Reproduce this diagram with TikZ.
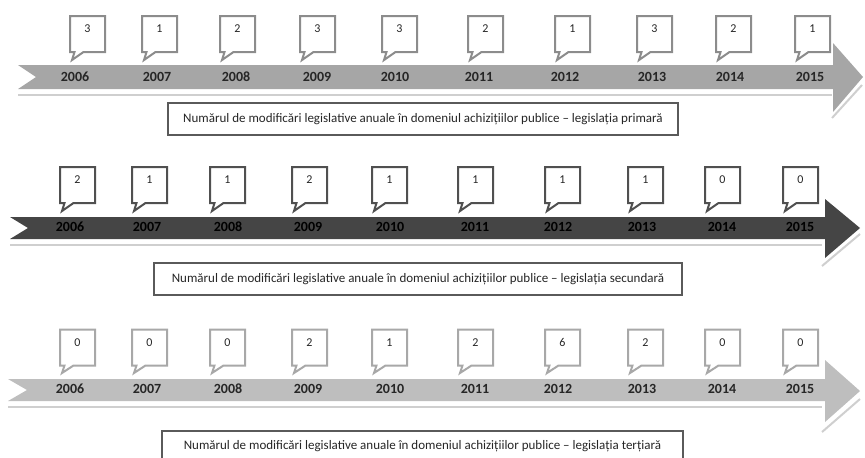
\documentclass[tikz,border=0pt]{standalone}
\usepackage{fontspec}
\setmainfont{Carlito}
\usetikzlibrary{shapes.callouts}

\definecolor{bandA}{HTML}{A6A6A6}
\definecolor{bandB}{HTML}{454545}
\definecolor{bandC}{HTML}{BEBEBE}
\definecolor{boxA}{HTML}{8C8C8C}
\definecolor{boxB}{HTML}{505050}
\definecolor{boxC}{HTML}{A8A8A8}
\definecolor{shine}{HTML}{CFCFCF}
\definecolor{yeartext}{HTML}{262626}
\definecolor{capline}{HTML}{5A5A5A}

\tikzset{
  year/.style={font=\fontsize{7}{8}\selectfont\bfseries, text=yeartext, inner sep=0pt},
  bubble/.style={rectangle callout, draw=#1, fill=white, line width=1pt,
    minimum width=17.5pt, inner sep=0pt, text height=8.4pt, text depth=9.6pt,
    font=\fontsize{6}{7}\selectfont, text=black!85, callout pointer width=4.5pt},
  capbox/.style={draw=capline, line width=0.6pt, fill=white, inner sep=0pt,
    font=\fontsize{6.5}{7}\selectfont, text=black!85},
  shineline/.style={draw=shine, line width=1pt}
}

\begin{document}
\begin{tikzpicture}[x=0.5pt, y=-0.5pt]
% page frame, 865 x 457
\useasboundingbox (0,0) rectangle (865,457);

% ---- primary legislation ----
% band with arrow head
\fill[bandA] (18,65) -- (833,65) -- (833,43) -- (863,77) -- (833,112) -- (833,89) -- (18,89) -- (36,77) -- cycle;
\draw[shineline] (18,95) -- (832,95);
\draw[shineline] (832,118) -- (862,85);

% years and bubbles
\node[year] (yA06) at (75,77) {2006};  \node[bubble=boxA, callout absolute pointer={(72,60)}] (cA06) at (87.5,34) {3};
\node[year] (yA07) at (157,77) {2007}; \node[bubble=boxA, callout absolute pointer={(144,60)}] (cA07) at (159.5,34) {1};
\node[year] (yA08) at (236,77) {2008}; \node[bubble=boxA, callout absolute pointer={(222,60)}] (cA08) at (237.5,34) {2};
\node[year] (yA09) at (317,77) {2009}; \node[bubble=boxA, callout absolute pointer={(302,60)}] (cA09) at (317.5,34) {3};
\node[year] (yA10) at (395,77) {2010}; \node[bubble=boxA, callout absolute pointer={(384,60)}] (cA10) at (399.5,34) {3};
\node[year] (yA11) at (479,77) {2011}; \node[bubble=boxA, callout absolute pointer={(470,60)}] (cA11) at (485.5,34) {2};
\node[year] (yA12) at (565,77) {2012}; \node[bubble=boxA, callout absolute pointer={(557,60)}] (cA12) at (572.5,34) {1};
\node[year] (yA13) at (652,77) {2013}; \node[bubble=boxA, callout absolute pointer={(639,60)}] (cA13) at (654.5,34) {3};
\node[year] (yA14) at (730,77) {2014}; \node[bubble=boxA, callout absolute pointer={(718,60)}] (cA14) at (733.5,34) {2};
\node[year] (yA15) at (810,77) {2015}; \node[bubble=boxA, callout absolute pointer={(797,60)}] (cA15) at (812.5,34) {1};

% caption
\node[capbox, minimum width=255pt, minimum height=16pt] (capA) at (423,119)
  {Numărul de modificări legislative anuale în domeniul achizițiilor publice – legislația primară};

% ---- secondary legislation ----
\fill[bandB] (10,217) -- (825,217) -- (825,199) -- (860,228) -- (825,258) -- (825,239) -- (10,239) -- (28,228) -- cycle;
\draw[shineline] (10,245) -- (822,245);
\draw[shineline] (822,266) -- (860,234);

\node[year, text=black] (yB06) at (70,227) {2006};  \node[bubble=boxB, callout absolute pointer={(62,211)}] (cB06) at (77.5,185) {2};
\node[year, text=black] (yB07) at (147,227) {2007}; \node[bubble=boxB, callout absolute pointer={(134,211)}] (cB07) at (149.5,185) {1};
\node[year, text=black] (yB08) at (228,227) {2008}; \node[bubble=boxB, callout absolute pointer={(212,211)}] (cB08) at (227.5,185) {1};
\node[year, text=black] (yB09) at (308,227) {2009}; \node[bubble=boxB, callout absolute pointer={(294,211)}] (cB09) at (309.5,185) {2};
\node[year, text=black] (yB10) at (390,227) {2010}; \node[bubble=boxB, callout absolute pointer={(374,211)}] (cB10) at (389.5,185) {1};
\node[year, text=black] (yB11) at (475,227) {2011}; \node[bubble=boxB, callout absolute pointer={(460,211)}] (cB11) at (475.5,185) {1};
\node[year, text=black] (yB12) at (558,227) {2012}; \node[bubble=boxB, callout absolute pointer={(547,211)}] (cB12) at (562.5,185) {1};
\node[year, text=black] (yB13) at (642,227) {2013}; \node[bubble=boxB, callout absolute pointer={(630,211)}] (cB13) at (645.5,185) {1};
\node[year, text=black] (yB14) at (722,227) {2014}; \node[bubble=boxB, callout absolute pointer={(707,211)}] (cB14) at (722.5,185) {0};
\node[year, text=black] (yB15) at (800,227) {2015}; \node[bubble=boxB, callout absolute pointer={(785,211)}] (cB15) at (800.5,185) {0};

\node[capbox, minimum width=264pt, minimum height=16pt] (capB) at (418,279)
  {Numărul de modificări legislative anuale în domeniul achizițiilor publice – legislația secundară};

% ---- tertiary legislation ----
\fill[bandC] (8,379) -- (825,379) -- (825,360) -- (860,391) -- (825,422) -- (825,401) -- (8,401) -- (27,390) -- cycle;
\draw[shineline] (8,407) -- (822,407);
\draw[shineline] (822,432) -- (860,399);

\node[year] (yC06) at (70,389) {2006};  \node[bubble=boxC, callout absolute pointer={(62,373)}] (cC06) at (77.5,347.5) {0};
\node[year] (yC07) at (147,389) {2007}; \node[bubble=boxC, callout absolute pointer={(134,373)}] (cC07) at (149.5,347.5) {0};
\node[year] (yC08) at (228,389) {2008}; \node[bubble=boxC, callout absolute pointer={(212,373)}] (cC08) at (227.5,347.5) {0};
\node[year] (yC09) at (308,389) {2009}; \node[bubble=boxC, callout absolute pointer={(294,373)}] (cC09) at (309.5,347.5) {2};
\node[year] (yC10) at (390,389) {2010}; \node[bubble=boxC, callout absolute pointer={(374,373)}] (cC10) at (389.5,347.5) {1};
\node[year] (yC11) at (475,389) {2011}; \node[bubble=boxC, callout absolute pointer={(460,373)}] (cC11) at (475.5,347.5) {2};
\node[year] (yC12) at (558,389) {2012}; \node[bubble=boxC, callout absolute pointer={(547,373)}] (cC12) at (562.5,347.5) {6};
\node[year] (yC13) at (642,389) {2013}; \node[bubble=boxC, callout absolute pointer={(630,373)}] (cC13) at (645.5,347.5) {2};
\node[year] (yC14) at (722,389) {2014}; \node[bubble=boxC, callout absolute pointer={(707,373)}] (cC14) at (722.5,347.5) {0};
\node[year] (yC15) at (800,389) {2015}; \node[bubble=boxC, callout absolute pointer={(785,373)}] (cC15) at (800.5,347.5) {0};

\node[capbox, minimum width=260.5pt, minimum height=15pt] (capC) at (422.5,446)
  {Numărul de modificări legislative anuale în domeniul achizițiilor publice – legislația terțiară};
\end{tikzpicture}
\end{document}
